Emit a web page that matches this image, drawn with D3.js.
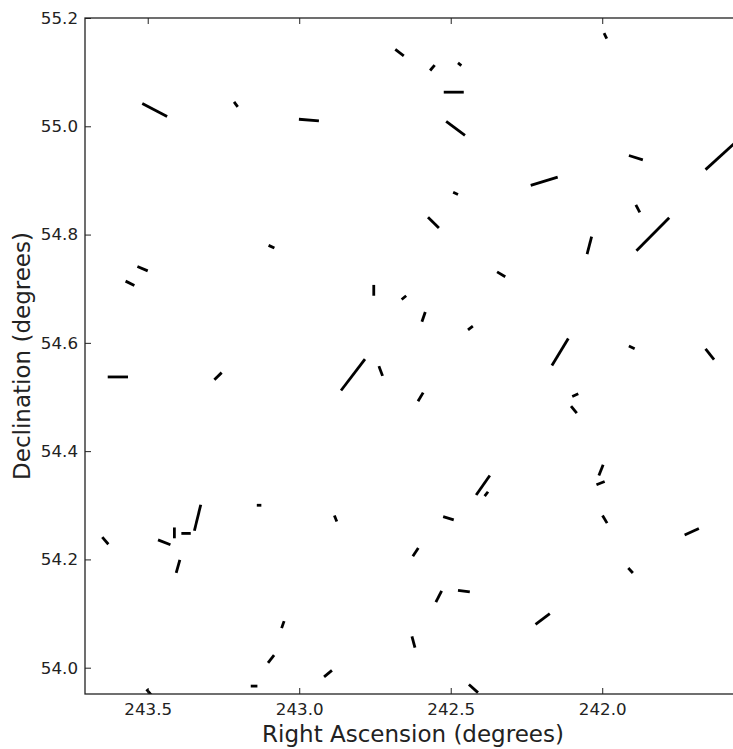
<!DOCTYPE html>
<html>
<head>
<meta charset="utf-8">
<script src="https://cdn.jsdelivr.net/npm/d3@7"></script>
<style>
  body { margin: 0; background: #fff; }
  text { font-family: "DejaVu Sans", sans-serif; fill: #222; }
</style>
</head>
<body>
<script>
// whisker endpoints (RA / Dec, degrees)
raStart  = [243.518, 243.215, 243.001, 242.683, 242.568, 242.476, 242.523, 242.515, 241.994, 242.236,
            241.912, 241.659, 243.573, 243.534, 243.101, 242.754, 242.662, 242.492, 242.575, 241.889,
            241.887, 242.050, 242.347, 242.595, 242.443, 242.166, 241.912, 241.659, 243.632, 243.280,
            242.862, 242.737, 243.140, 243.346, 242.884, 242.608, 242.099, 242.103, 242.011, 242.019,
            242.416, 242.388, 242.525, 241.999, 243.650, 243.466, 243.412, 243.389, 243.406, 243.058,
            243.103, 242.918, 243.160, 243.504, 242.625, 242.549, 242.476, 242.628, 242.220, 241.914,
            241.728, 242.440]
decStart = [55.042, 55.045, 55.013, 55.142, 55.103, 55.117, 55.063, 55.009, 55.172, 54.891,
            54.946, 54.920, 54.714, 54.741, 54.780, 54.707, 54.680, 54.878, 54.832, 54.855,
            54.770, 54.764, 54.731, 54.639, 54.624, 54.558, 54.594, 54.589, 54.537, 54.532,
            54.512, 54.557, 54.300, 54.253, 54.281, 54.492, 54.501, 54.483, 54.355, 54.338,
            54.319, 54.317, 54.279, 54.281, 54.241, 54.236, 54.259, 54.248, 54.175, 54.073,
            54.009, 53.983, 53.966, 53.960, 54.206, 54.121, 54.143, 54.058, 54.080, 54.184,
            54.245, 53.969]
raEnd    = [243.436, 243.203, 242.935, 242.655, 242.553, 242.465, 242.457, 242.453, 241.985, 242.147,
            241.866, 241.529, 243.544, 243.500, 243.082, 242.754, 242.647, 242.476, 242.539, 241.876,
            241.779, 242.035, 242.320, 242.584, 242.427, 242.112, 241.893, 241.631, 243.565, 243.256,
            242.783, 242.725, 243.125, 243.325, 242.876, 242.591, 242.079, 242.084, 241.997, 241.992,
            242.371, 242.377, 242.490, 241.984, 243.630, 243.425, 243.412, 243.358, 243.394, 243.050,
            243.083, 242.892, 243.138, 243.483, 242.607, 242.530, 242.437, 242.618, 242.173, 241.899,
            241.681, 242.410]
decEnd   = [55.018, 55.036, 55.010, 55.130, 55.113, 55.112, 55.063, 54.983, 55.162, 54.906,
            54.938, 54.986, 54.706, 54.733, 54.775, 54.687, 54.687, 54.874, 54.812, 54.841,
            54.831, 54.796, 54.722, 54.657, 54.631, 54.608, 54.589, 54.569, 54.537, 54.545,
            54.570, 54.539, 54.300, 54.301, 54.270, 54.508, 54.506, 54.470, 54.375, 54.344,
            54.355, 54.325, 54.273, 54.267, 54.228, 54.227, 54.239, 54.248, 54.199, 54.086,
            54.023, 53.995, 53.966, 53.946, 54.221, 54.142, 54.140, 54.037, 54.100, 54.175,
            54.257, 53.954]

raTicks  = [243.5, 243.0, 242.5, 242.0]
decTicks = [54.0, 54.2, 54.4, 54.6, 54.8, 55.0, 55.2]

width = 733
height = 749
padL = 85
padR = 741
padT = 18
padB = 694

data = raStart.map(function(d, i) {
    return {ra1: d, dec1: decStart[i], ra2: raEnd[i], dec2: decEnd[i]};
})

x = d3.scaleLinear().domain([243.707, 241.542]).range([padL, padR])
y = d3.scaleLinear().domain([53.9514, 55.2]).range([padB, padT])

svg = d3.select("body")
    .append("svg")
    .attr("width", width)
    .attr("height", height)

svg.append("defs").append("clipPath")
    .attr("id", "plotclip")
    .append("rect")
      .attr("x", padL)
      .attr("y", padT)
      .attr("width", padR - padL)
      .attr("height", padB - padT)

svg.append("g")
    .attr("clip-path", "url(#plotclip)")
    .selectAll("line")
    .data(data)
    .enter()
    .append("line")
    .attr("x1", function(d) { return x(d.ra1); })
    .attr("y1", function(d) { return y(d.dec1); })
    .attr("x2", function(d) { return x(d.ra2); })
    .attr("y2", function(d) { return y(d.dec2); })
    .attr("stroke", "#000")
    .attr("stroke-width", 2.8)

fmt = d3.format(".1f")

// axes, ticks pointing inward
svg.append("g")
    .attr("transform", "translate(0," + padB + ")")
    .call(d3.axisBottom(x).tickValues(raTicks).tickFormat(fmt).tickSize(-6).tickPadding(9.6))
svg.append("g")
    .attr("transform", "translate(0," + padT + ")")
    .call(d3.axisTop(x).tickValues(raTicks).tickFormat("").tickSize(-6))
svg.append("g")
    .attr("transform", "translate(" + padL + ",0)")
    .call(d3.axisLeft(y).tickValues(decTicks).tickFormat(fmt).tickSize(-6).tickPadding(7))
svg.append("g")
    .attr("transform", "translate(" + padR + ",0)")
    .call(d3.axisRight(y).tickValues(decTicks).tickFormat("").tickSize(-6))

svg.selectAll(".domain").remove()
svg.selectAll(".tick line").attr("stroke", "#222").attr("stroke-width", 1)
svg.selectAll(".tick text")
    .attr("font-size", 16.7)
    .attr("font-family", "DejaVu Sans")
    .attr("fill", "#222")

svg.append("rect")
    .attr("x", padL)
    .attr("y", padT)
    .attr("width", padR - padL)
    .attr("height", padB - padT)
    .attr("fill", "none")
    .attr("stroke", "#222")
    .attr("stroke-width", 1.3)

svg.append("text")
    .attr("x", (padL + padR) / 2)
    .attr("y", 742)
    .attr("text-anchor", "middle")
    .attr("font-size", 23)
    .text("Right Ascension (degrees)")

svg.append("text")
    .attr("transform", "translate(30," + (padT + padB) / 2 + ") rotate(-90)")
    .attr("text-anchor", "middle")
    .attr("font-size", 23)
    .text("Declination (degrees)")
</script>
</body>
</html>
